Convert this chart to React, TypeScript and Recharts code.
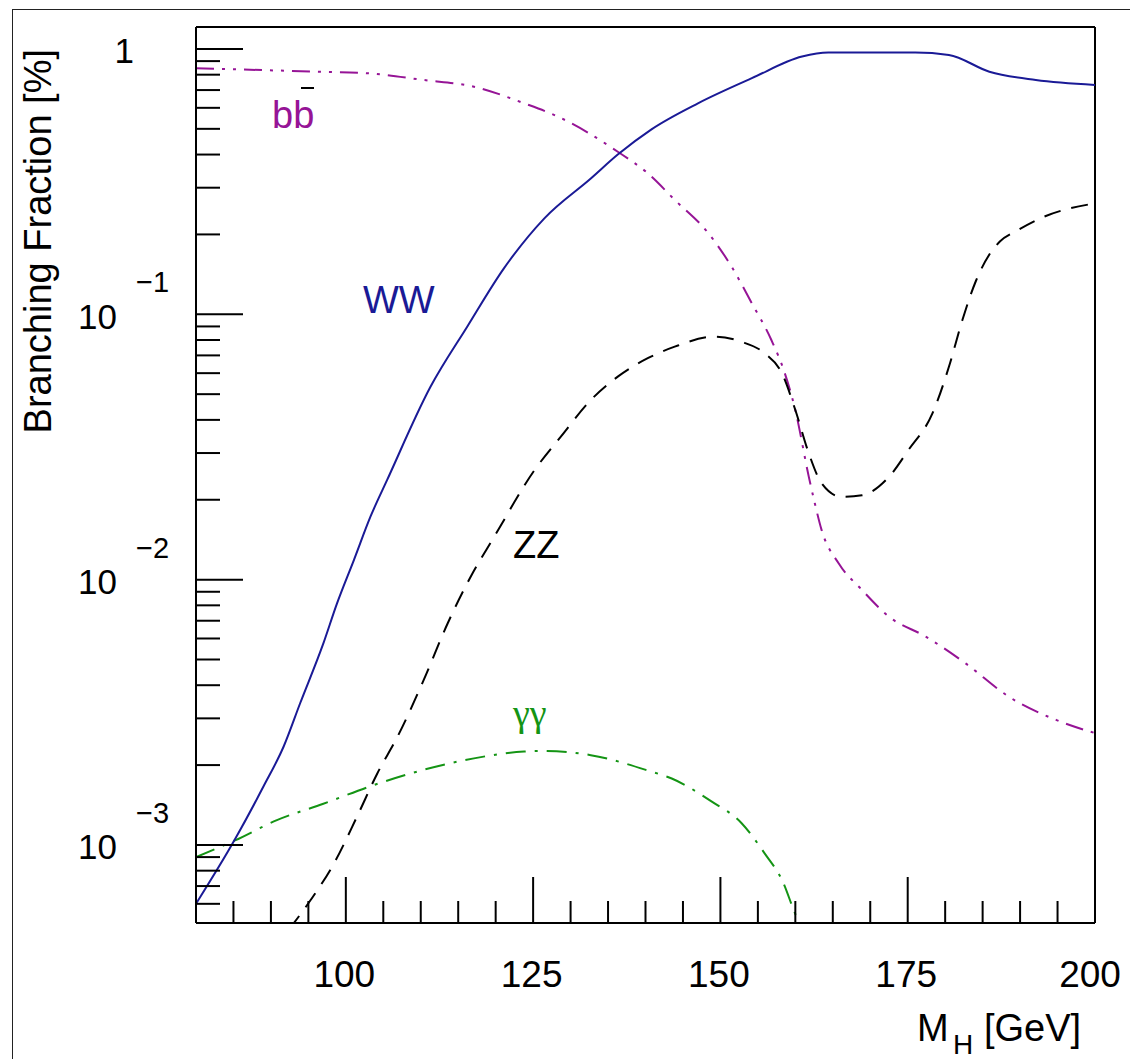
import React from 'react';
import { LineChart, Line, XAxis, YAxis, ReferenceLine, Customized } from 'recharts';

// ---- data (M_H in GeV, branching fraction) ----
const wwMass = [80, 85.2, 89, 91.7, 93.9, 97, 98.8, 101.1, 103.3, 105.5, 111.3, 116.2, 121.1, 126.5, 132.7, 136.3, 140.8, 147, 154.2, 160.9, 164.4, 176, 180.5, 185.9, 192.1, 200];
const wwBR = [6.0e-4, 1.05e-3, 1.66e-3, 2.35e-3, 3.42e-3, 5.75e-3, 8.1e-3, 0.0119, 0.0173, 0.0237, 0.0533, 0.0898, 0.149, 0.23, 0.325, 0.4, 0.498, 0.624, 0.776, 0.936, 0.969, 0.969, 0.949, 0.821, 0.764, 0.732];

const zzMass = [92.4, 95.3, 98.4, 101.5, 104.2, 106.9, 110.4, 113.6, 116.7, 119.8, 125.2, 128.7, 132.7, 136.3, 140.3, 143.9, 149.3, 152.8, 155.9, 158.2, 160, 161.8, 163.5, 166.2, 168.9, 172.5, 175.1, 178.3, 180.5, 182.3, 184.1, 185.9, 187.3, 189.5, 193, 200];
const zzBR = [4.8e-4, 6.2e-4, 8.5e-4, 1.28e-3, 1.86e-3, 2.56e-3, 4.19e-3, 6.85e-3, 0.0103, 0.0145, 0.0259, 0.0346, 0.0475, 0.0582, 0.0683, 0.0755, 0.0824, 0.0788, 0.0713, 0.06, 0.0436, 0.0299, 0.0231, 0.0205, 0.0208, 0.0244, 0.0308, 0.0423, 0.0634, 0.0952, 0.1335, 0.168, 0.188, 0.206, 0.232, 0.262];

const bbMass = [80, 96.2, 102.9, 110.4, 117.1, 123.8, 128.3, 136.3, 140.3, 143.9, 148.4, 151.5, 154.2, 156.8, 158.6, 160, 161.8, 162.6, 163.5, 165.8, 168.9, 172.5, 177.4, 182.7, 188.5, 194.8, 200];
const bbBR = [0.846, 0.821, 0.81, 0.764, 0.721, 0.624, 0.556, 0.41, 0.34, 0.27, 0.202, 0.151, 0.11, 0.08, 0.0599, 0.0435, 0.0244, 0.0194, 0.0154, 0.0115, 0.00914, 0.00725, 0.0061, 0.00484, 0.00362, 0.00296, 0.00264];

const ggMass = [80, 85.2, 90.8, 97, 103.7, 110.4, 117.1, 123.8, 126.5, 132.7, 140.5, 143.5, 148.8, 152.8, 155.9, 158.2, 160.4, 161.2];
const ggBR = [9.0e-4, 1.04e-3, 1.24e-3, 1.43e-3, 1.68e-3, 1.92e-3, 2.12e-3, 2.25e-3, 2.26e-3, 2.18e-3, 1.9e-3, 1.78e-3, 1.46e-3, 1.21e-3, 9.3e-4, 7.4e-4, 5.2e-4, 4.8e-4];

// ---- axes ----
const xDomain = [80, 200];
const xTicks = [80, 85, 90, 95, 100, 105, 110, 115, 120, 125, 130, 135, 140, 145, 150, 155, 160, 165, 170, 175, 180, 185, 190, 195, 200];
const xMajor = [100, 125, 150, 175, 200];
const xTickLabels = ['100', '125', '150', '175', '200'];

const yDomain = [5.08e-4, 1.21];
const yTicks = [6e-4, 7e-4, 8e-4, 9e-4, 1e-3, 2e-3, 3e-3, 4e-3, 5e-3, 6e-3, 7e-3, 8e-3, 9e-3, 1e-2, 2e-2, 3e-2, 4e-2, 5e-2, 6e-2, 7e-2, 8e-2, 9e-2, 0.1, 0.2, 0.3, 0.4, 0.5, 0.6, 0.7, 0.8, 0.9, 1];
const yMajor = [1e-3, 1e-2, 1e-1, 1];
const yTickBase = ['10', '10', '10', '1'];
const yTickExp = ['\u22123', '\u22122', '\u22121', ''];

const zip = (m: number[], v: number[]) => m.map((x, i) => ({ m: x, v: v[i] }));
const wwData = zip(wwMass, wwBR);
const zzData = zip(zzMass, zzBR);
const bbData = zip(bbMass, bbBR);
const ggData = zip(ggMass, ggBR);

const FONT = "'Liberation Sans', Arial, Helvetica, sans-serif";
const C_WW = '#1a1a96';
const C_BB = '#961496';
const C_GG = '#149414';

if (typeof document !== 'undefined') {
  document.body.style.margin = '0';
}

const XTick = (props: any) => {
  const { x, y, payload } = props;
  const idx = xMajor.indexOf(payload.value);
  const major = idx >= 0;
  const last = idx === xMajor.length - 1;
  return (
    <g>
      <line x1={x} x2={x} y1={y} y2={y - (major ? 46 : 22)} stroke="#000" strokeWidth={2} />
      {major && (
        <text x={x - (last ? 5 : 1.5)} y={y + 64} textAnchor="middle" fontSize={37} fontFamily={FONT} fill="#000">
          {xTickLabels[idx]}
        </text>
      )}
    </g>
  );
};

const YTick = (props: any) => {
  const { x, y, payload } = props;
  const v = payload.value;
  const idx = yMajor.findIndex((m) => Math.abs(m - v) / m < 1e-6);
  const major = idx >= 0;
  return (
    <g>
      <line x1={x} x2={x + (major ? 47 : 24)} y1={y} y2={y} stroke="#000" strokeWidth={2} />
      {major && yTickExp[idx] === '' && (
        <text x={x - 62} y={y + 14} textAnchor="end" fontSize={35} fontFamily={FONT} fill="#000">
          {yTickBase[idx]}
        </text>
      )}
      {major && yTickExp[idx] !== '' && (
        <g>
          <text x={x - 79} y={y + 14.5} textAnchor="end" fontSize={35} fontFamily={FONT} fill="#000">
            {yTickBase[idx]}
          </text>
          <text x={x - 60} y={y - 22} fontSize={29} fontFamily={FONT} fill="#000">
            {yTickExp[idx]}
          </text>
        </g>
      )}
    </g>
  );
};

const Labels = () => (
  <g fontFamily={FONT}>
    <text x={355} y={305} fontSize={38} fill={C_WW}>WW</text>
    <text x={264} y={120} fontSize={38} fill={C_BB}>bb</text>
    <line x1={293} x2={306} y1={80} y2={80} stroke="#000" strokeWidth={2} />
    <text x={505} y={550} fontSize={38} fill="#000">ZZ</text>
    <text x={505} y={718} fontSize={38} fill={C_GG} fontFamily="'Liberation Serif', 'DejaVu Serif', serif">γγ</text>
    <text transform="translate(43,41) rotate(-90)" textAnchor="end" fontSize={38} fill="#000">
      Branching Fraction [%]
    </text>
    <text fontSize={38} fill="#000">
      <tspan x={909} y={1033}>M</tspan>
      <tspan x={945} y={1046} fontSize={28}>H</tspan>
      <tspan x={976} y={1033}>[GeV]</tspan>
    </text>
  </g>
);

export default function App() {
  return (
    <div style={{ position: 'relative', width: 1130, height: 1059, overflow: 'hidden', fontFamily: FONT, background: '#fff' }}>
      <div
        style={{
          position: 'absolute',
          left: 12,
          top: 9,
          width: 1118,
          height: 1050,
          borderLeft: '1.5px solid #222',
          borderTop: '1.5px solid #222',
          boxSizing: 'border-box',
          pointerEvents: 'none',
        }}
      />
      <div style={{ position: 'absolute', left: 8, top: 8 }}>
        <LineChart width={1122} height={1051} margin={{ top: 19, right: 35, left: 0, bottom: 0 }}>
          <XAxis
            dataKey="m"
            type="number"
            domain={xDomain}
            allowDataOverflow
            ticks={xTicks}
            interval={0}
            tick={<XTick />}
            tickLine={false}
            tickSize={0}
            tickMargin={0}
            axisLine={{ stroke: '#000', strokeWidth: 2 }}
            height={136}
          />
          <YAxis
            type="number"
            scale="log"
            domain={yDomain}
            allowDataOverflow
            ticks={yTicks}
            interval={0}
            tick={<YTick />}
            tickLine={false}
            tickSize={0}
            tickMargin={0}
            axisLine={{ stroke: '#000', strokeWidth: 2 }}
            width={188}
          />
          <ReferenceLine y={yDomain[1]} stroke="#000" strokeWidth={2} ifOverflow="visible" />
          <ReferenceLine x={xDomain[1]} stroke="#000" strokeWidth={2} ifOverflow="visible" />
          <Line data={bbData} dataKey="v" type="monotone" stroke={C_BB} strokeWidth={2} strokeDasharray="18 8 3 8 3 8" dot={false} isAnimationActive={false} />
          <Line data={zzData} dataKey="v" type="monotone" stroke="#000" strokeWidth={2} strokeDasharray="17 11" dot={false} isAnimationActive={false} />
          <Line data={ggData} dataKey="v" type="monotone" stroke={C_GG} strokeWidth={2} strokeDasharray="20 9 3 9" dot={false} isAnimationActive={false} />
          <Line data={wwData} dataKey="v" type="monotone" stroke={C_WW} strokeWidth={2} dot={false} isAnimationActive={false} />
          <Customized component={Labels} />
        </LineChart>
      </div>
    </div>
  );
}
